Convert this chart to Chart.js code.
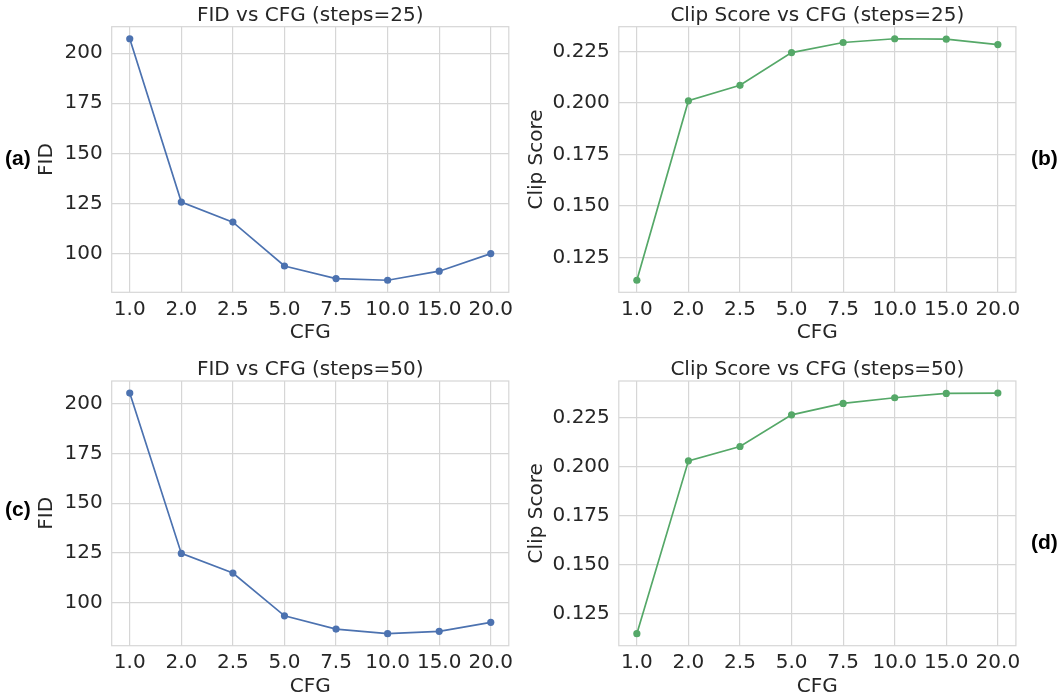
<!DOCTYPE html>
<html>
<head>
<meta charset="utf-8">
<script src="https://cdn.jsdelivr.net/npm/chart.js@4.4.1/dist/chart.umd.min.js"></script>
<style>
  html, body { margin: 0; padding: 0; background: #fff; overflow: hidden; }
  body { width: 1060px; height: 696px; position: relative; }
  canvas { position: absolute; }
  .tag { position: absolute; font: bold 21px 'Liberation Sans', Arial, sans-serif; color: #000; line-height: 1; }
</style>
</head>
<body>
<canvas id="fid25"></canvas>
<canvas id="clip25"></canvas>
<canvas id="fid50"></canvas>
<canvas id="clip50"></canvas>
<div class="tag" style="left:5px;top:147px">(a)</div>
<div class="tag" style="left:1031px;top:147px">(b)</div>
<div class="tag" style="left:5px;top:498px">(c)</div>
<div class="tag" style="left:1031px;top:531px">(d)</div>
<script>
// values
const cfgLabels = ['1.0', '2.0', '2.5', '5.0', '7.5', '10.0', '15.0', '20.0'];
const fidSteps25 = [207.2, 125.7, 115.7, 93.8, 87.5, 86.7, 91.2, 100.0];
const fidSteps50 = [205.4, 124.7, 114.8, 93.3, 86.6, 84.3, 85.5, 90.0];
const clipSteps25 = [0.1140, 0.2011, 0.2086, 0.2245, 0.2294, 0.2312, 0.2310, 0.2284];
const clipSteps50 = [0.1150, 0.2029, 0.2102, 0.2263, 0.2321, 0.2350, 0.2372, 0.2374];
const fidTicks = [100, 125, 150, 175, 200];
const clipTicks = [0.125, 0.150, 0.175, 0.200, 0.225];

const textColor = '#262626';
const gridColor = '#d6d6d6';
const font = { family: 'DejaVu Sans', size: 20 };

// panel placement on the page (canvas box + wanted plot area)
const panels = [
    { id: 'fid25', title: 'FID vs CFG (steps=25)', yTitle: 'FID', values: fidSteps25, ticks: fidTicks, digits: 0, color: '#4C72B0',
      box: { left: 0, top: 0, width: 530, height: 352 }, area: { l: 111.7, t: 26.7, r: 508.8, b: 292.3 }, yTitleX: 47, xTitleY: 332.3 },
    { id: 'clip25', title: 'Clip Score vs CFG (steps=25)', yTitle: 'Clip Score', values: clipSteps25, ticks: clipTicks, digits: 3, color: '#55A868',
      box: { left: 520, top: 0, width: 540, height: 352 }, area: { l: 618.8, t: 26.7, r: 1015.9, b: 292.3 }, yTitleX: 537, xTitleY: 332.3 },
    { id: 'fid50', title: 'FID vs CFG (steps=50)', yTitle: 'FID', values: fidSteps50, ticks: fidTicks, digits: 0, color: '#4C72B0',
      box: { left: 0, top: 350, width: 530, height: 356 }, area: { l: 111.7, t: 381, r: 508.8, b: 645.7 }, yTitleX: 47, xTitleY: 686.5 },
    { id: 'clip50', title: 'Clip Score vs CFG (steps=50)', yTitle: 'Clip Score', values: clipSteps50, ticks: clipTicks, digits: 3, color: '#55A868',
      box: { left: 520, top: 350, width: 540, height: 356 }, area: { l: 618.8, t: 381, r: 1015.9, b: 645.7 }, yTitleX: 537, xTitleY: 686.5 }
];

// full box around the axes, like the matplotlib spines
const framePlugin = {
    id: 'frame',
    beforeDatasetsDraw(chart) {
        const { ctx, chartArea: a } = chart;
        ctx.save();
        ctx.strokeStyle = gridColor;
        ctx.lineWidth = 1.2;
        ctx.strokeRect(a.left, a.top, a.right - a.left, a.bottom - a.top);
        ctx.restore();
    }
};

// title centred over the plot area, not over the canvas
const axesTitlePlugin = {
    id: 'axesTitle',
    afterDraw(chart, args, opts) {
        const { ctx, chartArea: a } = chart;
        ctx.save();
        ctx.font = font.size + 'px "' + font.family + '"';
        ctx.fillStyle = textColor;
        ctx.textAlign = 'center';
        ctx.textBaseline = 'alphabetic';
        ctx.fillText(opts.text, (a.left + a.right) / 2, a.top - 6);
        ctx.restore();
    }
};

function makePanel(p) {
    const canvas = document.getElementById(p.id);
    canvas.width = p.box.width;
    canvas.height = p.box.height;
    canvas.style.left = p.box.left + 'px';
    canvas.style.top = p.box.top + 'px';

    const lo = Math.min(...p.values);
    const hi = Math.max(...p.values);
    const margin = (hi - lo) * 0.05;
    const half = font.size * 1.2 / 2;

    new Chart(canvas, {
        type: 'line',
        data: {
            datasets: [{
                data: p.values.map((v, i) => ({ x: i, y: v })),
                borderColor: p.color,
                backgroundColor: p.color,
                pointBackgroundColor: p.color,
                borderWidth: 1.7,
                pointRadius: 3.6,
                pointBorderWidth: 0,
                tension: 0
            }]
        },
        options: {
            responsive: false,
            animation: false,
            devicePixelRatio: 1,
            layout: {
                padding: {
                    top: p.area.t - p.box.top,
                    right: p.box.left + p.box.width - p.area.r,
                    left: 0,
                    bottom: 0
                }
            },
            plugins: {
                legend: { display: false },
                tooltip: { enabled: false },
                axesTitle: { text: p.title }
            },
            scales: {
                x: {
                    type: 'linear',
                    min: -0.35,
                    max: cfgLabels.length - 1 + 0.35,
                    afterBuildTicks: s => { s.ticks = cfgLabels.map((_, i) => ({ value: i })); },
                    afterFit: s => { s.height = p.box.top + p.box.height - p.area.b; },
                    ticks: {
                        callback: v => cfgLabels[v],
                        autoSkip: false,
                        maxRotation: 0,
                        padding: 5.5,
                        color: textColor,
                        font: font
                    },
                    grid: { color: gridColor, lineWidth: 1.2, drawTicks: false },
                    border: { display: false },
                    title: {
                        display: true,
                        text: 'CFG',
                        color: textColor,
                        font: font,
                        padding: { top: 0, bottom: p.box.top + p.box.height - p.xTitleY - half }
                    }
                },
                y: {
                    min: lo - margin,
                    max: hi + margin,
                    afterBuildTicks: s => { s.ticks = p.ticks.map(v => ({ value: v })); },
                    afterFit: s => { s.width = p.area.l - p.box.left; },
                    ticks: {
                        callback: v => v.toFixed(p.digits),
                        padding: 9,
                        color: textColor,
                        font: font
                    },
                    grid: { color: gridColor, lineWidth: 1.2, drawTicks: false },
                    border: { display: false },
                    title: {
                        display: true,
                        text: p.yTitle,
                        color: textColor,
                        font: font,
                        padding: { top: p.yTitleX - p.box.left - half, bottom: 0 }
                    }
                }
            }
        },
        plugins: [framePlugin, axesTitlePlugin]
    });
}

panels.forEach(makePanel);
</script>
</body>
</html>
